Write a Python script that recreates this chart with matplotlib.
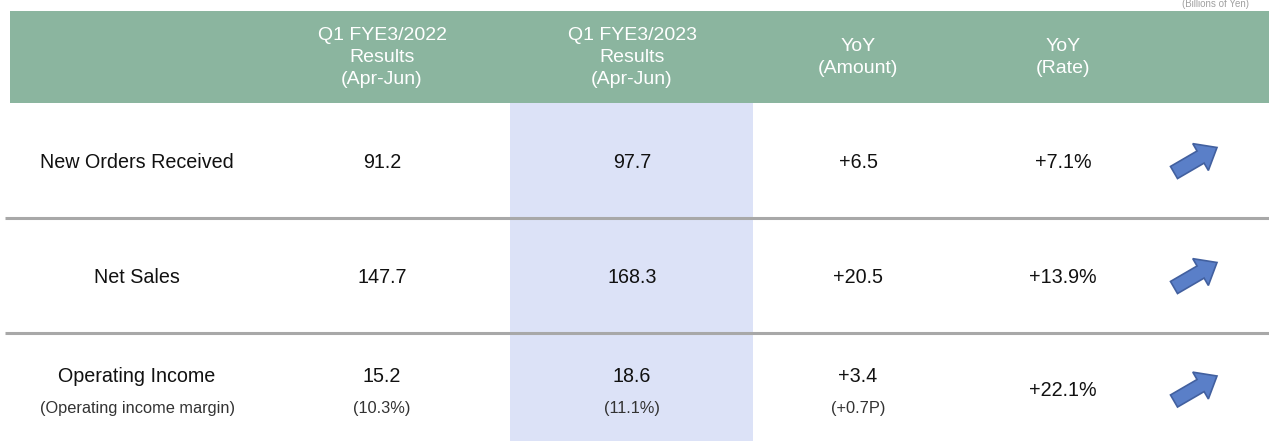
import matplotlib
matplotlib.use("Agg")
import matplotlib.pyplot as plt
from matplotlib.patches import Rectangle, FancyArrow

plt.rcParams['font.family'] = ['Liberation Sans', 'DejaVu Sans']

# ---- data ----
unit_note = "(Billions of Yen)"
col_headers = ["Q1 FYE3/2022\nResults\n(Apr-Jun)",
               "Q1 FYE3/2023\nResults\n(Apr-Jun)",
               "YoY\n(Amount)",
               "YoY\n(Rate)"]
row_labels = ["New Orders Received", "Net Sales", "Operating Income"]
row_sublabels = ["", "", "(Operating income margin)"]
fy2022 = ["91.2", "147.7", "15.2"]
fy2022_sub = ["", "", "(10.3%)"]
fy2023 = ["97.7", "168.3", "18.6"]
fy2023_sub = ["", "", "(11.1%)"]
yoy_amount = ["+6.5", "+20.5", "+3.4"]
yoy_amount_sub = ["", "", "(+0.7P)"]
yoy_rate = ["+7.1%", "+13.9%", "+22.1%"]
trend_up = [True, True, True]

# ---- layout ----
W, H = 1269, 441
fig = plt.figure(figsize=(W / 100, H / 100), dpi=100)
ax = fig.add_axes([0, 0, 1, 1])
ax.set_xlim(0, W)
ax.set_ylim(H, 0)
ax.axis('off')

green = "#8BB59F"
hilite = "#DCE2F7"
header_top, header_bot = 11, 103
row_bounds = [103, 218, 333, 448]
col_x = [137, 382, 632, 858, 1063]
arrow_x = 1193

# header band
ax.add_patch(Rectangle((10, header_top), W - 10, header_bot - header_top,
                       facecolor=green, edgecolor="none", zorder=1))
# highlight column
ax.add_patch(Rectangle((510, header_bot), 243, H - header_bot,
                       facecolor=hilite, edgecolor="none", zorder=0))
# separators
for yb in row_bounds[1:3]:
    ax.plot([5, W], [yb, yb], color="#A8A8A8", lw=2.2, zorder=2,
            solid_capstyle='butt')

# unit note
ax.text(1215, 9, unit_note, ha='center', va='bottom', fontsize=7,
        color="#A0A0A0", zorder=3)

# header text
for x, t in zip(col_x[1:], col_headers):
    ax.text(x, 57.5, t, ha='center', va='center', fontsize=14, color='white',
            linespacing=1.42, zorder=3)

main_fs = 14.2
sub_fs = 11.8
for i in range(3):
    top, bot = row_bounds[i], row_bounds[i + 1]
    cy = (top + min(bot, H)) / 2 + 2 if i < 2 else 391
    has_sub = row_sublabels[i] != ""
    y_main = cy - 14
    y_sub = cy + 18
    cols = [(row_labels[i], row_sublabels[i]),
            (fy2022[i], fy2022_sub[i]),
            (fy2023[i], fy2023_sub[i]),
            (yoy_amount[i], yoy_amount_sub[i])]
    for x, (m, s) in zip(col_x[:4], cols):
        if s:
            ax.text(x, y_main, m, ha='center', va='center', fontsize=main_fs,
                    color='#111111', zorder=3)
            ax.text(x, y_sub, s, ha='center', va='center', fontsize=sub_fs,
                    color='#333333', zorder=3)
        else:
            ax.text(x, cy, m, ha='center', va='center', fontsize=main_fs,
                    color='#111111', zorder=3)
    ax.text(col_x[4], cy, yoy_rate[i], ha='center', va='center',
            fontsize=main_fs, color='#111111', zorder=3)
    if trend_up[i]:
        ax.add_patch(FancyArrow(arrow_x - 19, cy + 10, 43, -25, width=14,
                                head_width=31, head_length=19,
                                length_includes_head=True,
                                facecolor="#5A7FC8", edgecolor="#42609F",
                                lw=1.2, zorder=3))

fig.savefig("out.png", dpi=100)
